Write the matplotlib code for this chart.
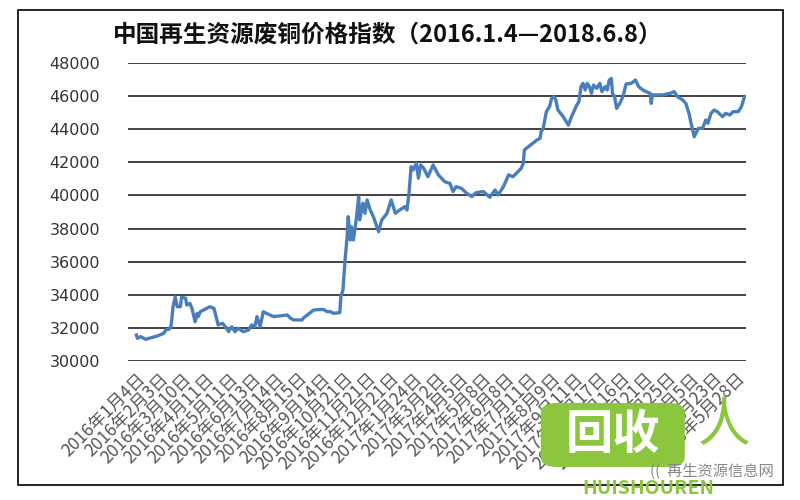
import matplotlib.pyplot as plt
from matplotlib.patches import Rectangle, FancyBboxPatch

plt.rcParams['font.family'] = ['Noto Sans CJK SC', 'DejaVu Sans']

# trading-day index and price index
day = [0, 1, 4, 9, 12, 20, 26, 28, 31, 33, 35, 37, 39, 42, 43, 47, 48, 51, 53, 56,
       58, 59, 61, 70, 74, 78, 82, 85, 88, 91, 94, 97, 102, 107, 110, 113, 115, 118, 121, 124,
       131, 144, 147, 150, 158, 159, 169, 178, 182, 185, 188, 194, 195, 197, 199, 201, 202, 204, 205, 207,
       210, 212, 213, 216, 218, 220, 223, 226, 231, 234, 239, 243, 247, 251, 256, 258, 260, 262, 264, 267,
       269, 271, 274, 278, 283, 288, 291, 294, 299, 302, 305, 310, 315, 320, 324, 331, 337, 342, 345, 350,
       355, 359, 364, 367, 369, 370, 374, 378, 382, 385, 386, 388, 391, 394, 396, 398, 400, 402, 407, 412,
       415, 420, 422, 424, 426, 428, 430, 432, 434, 436, 439, 442, 444, 447, 449, 451, 453, 454, 456, 458,
       461, 464, 467, 472, 476, 479, 483, 486, 490, 491, 492, 502, 509, 513, 516, 521, 524, 527, 529, 532,
       536, 540, 543, 545, 548, 551, 554, 559, 562, 566, 569, 574, 577, 580]
price = [31570, 31370, 31470, 31310, 31370, 31510, 31670, 31870, 31910, 32070, 33280, 33880, 33280, 33280, 33850, 33790, 33380, 33480, 33180, 32370,
         32880, 32680, 32980, 33280, 33180, 32180, 32280, 32070, 31770, 32070, 31770, 31970, 31770, 31870, 32180, 32070, 32680, 32070, 32980, 32880,
         32680, 32780, 32580, 32480, 32480, 32580, 33080, 33120, 32980, 32980, 32880, 32920, 33880, 34290, 36100, 37510, 38720, 37310, 38110, 37310,
         38720, 39920, 38520, 39530, 38920, 39730, 39120, 38720, 37810, 38520, 38920, 39730, 38920, 39120, 39320, 39120, 40130, 41740, 41540, 41940,
         41040, 41840, 41640, 41130, 41840, 41240, 41040, 40830, 40730, 40230, 40530, 40430, 40130, 39930, 40170, 40230, 39890, 40330, 40030, 40530,
         41240, 41130, 41440, 41640, 41940, 42750, 42950, 43150, 43350, 43450, 43850, 44060, 45060, 45360, 45870, 45970, 45770, 45160, 44760, 44250,
         44760, 45460, 45660, 46570, 46770, 46370, 46770, 46570, 46170, 46670, 46470, 46770, 46270, 46570, 46370, 46970, 47070, 46170, 45970, 45260,
         45560, 45970, 46730, 46770, 46970, 46570, 46370, 46270, 46170, 45560, 46070, 46070, 46170, 46270, 45970, 45770, 45560, 44960, 44360, 43550,
         44060, 44060, 44560, 44360, 44960, 45160, 45060, 44760, 44960, 44860, 45060, 45060, 45360, 45970]

tick_days = [0, 22, 44, 66, 88, 110, 132, 154, 176, 198, 220, 242, 264, 286,
             308, 330, 352, 374, 396, 418, 440, 462, 484, 506, 528, 550, 572]
tick_labels = ['2016年1月4日', '2016年2月3日', '2016年3月10日', '2016年4月11日', '2016年5月11日',
               '2016年6月13日', '2016年7月14日', '2016年8月15日', '2016年9月14日', '2016年10月21日',
               '2016年11月21日', '2016年12月21日', '2017年1月24日', '2017年3月2日', '2017年4月5日',
               '2017年5月8日', '2017年6月8日', '2017年7月11日', '2017年8月9日', '2017年9月11日',
               '2017年10月17日', '2017年11月16日', '2017年12月21日', '2018年1月25日', '2018年3月5日',
               '2018年4月23日', '2018年5月28日']
y_ticks = [30000, 32000, 34000, 36000, 38000, 40000, 42000, 44000, 46000, 48000]

fig = plt.figure(figsize=(8, 5), dpi=100)
ax = fig.add_axes([0.16, 0.278, 0.772, 0.596])

# outer chart frame
fig.patches.append(Rectangle((0.0225, 0.03), 0.956, 0.95, transform=fig.transFigure,
                             fill=False, edgecolor='black', linewidth=1.2))

for v in y_ticks:
    ax.axhline(v, color='#222222', linewidth=1.2, zorder=1)

ax.plot(day, price, color='#4a7ebb', linewidth=2.4, zorder=3)

ax.set_xlim(-8, 581)
ax.set_ylim(30000, 48000)
ax.set_yticks(y_ticks)
ax.set_yticklabels([str(v) for v in y_ticks], fontsize=11.5, color='#333333',
                   family='DejaVu Sans')
ax.set_xticks(tick_days)
ax.set_xticklabels(tick_labels, rotation=45, ha='right', rotation_mode='anchor',
                   fontsize=12.5, color='#555555')
ax.tick_params(axis='both', length=0)
ax.tick_params(axis='y', pad=20)
ax.tick_params(axis='x', pad=6)
for s in ax.spines.values():
    s.set_visible(False)

fig.text(0.485, 0.93, '中国再生资源废铜价格指数（2016.1.4—2018.6.8）',
         ha='center', va='center', fontsize=17, fontweight='bold', color='#111111')

# watermark logo
green = '#8cc63f'
fig.patches.append(FancyBboxPatch((0.68, 0.07), 0.172, 0.12, transform=fig.transFigure,
                                  boxstyle='round,pad=0.004,rounding_size=0.02',
                                  facecolor=green, edgecolor='none', zorder=5))
fig.text(0.766, 0.13, '回收', ha='center', va='center', fontsize=34,
         fontweight='bold', color='white', zorder=6)
fig.text(0.905, 0.15, '人', ha='center', va='center', fontsize=38,
         color=green, zorder=6)
fig.text(0.89, 0.058, '((  再生资源信息网', ha='center', va='center', fontsize=11,
         color='#888888', zorder=6)
fig.text(0.81, 0.022, 'HUISHOUREN', ha='center', va='center', fontsize=14,
         fontweight='bold', style='italic', color=green, zorder=6)

fig.savefig('out.png')
